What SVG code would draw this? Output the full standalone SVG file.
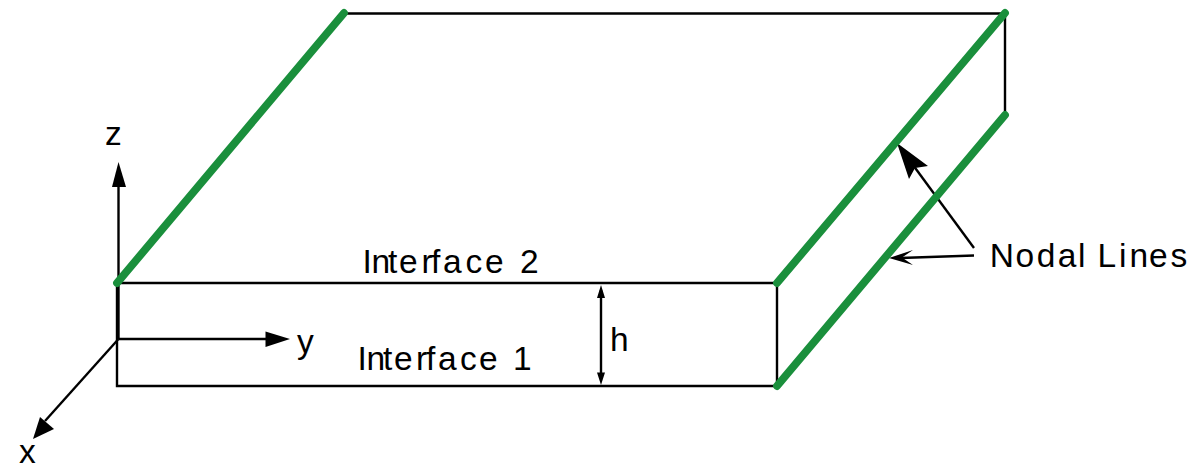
<svg xmlns="http://www.w3.org/2000/svg" width="1189" height="465" viewBox="0 0 1189 465">
<style>
.l{fill:none;stroke:#000;stroke-width:2.4}
.g{fill:none;stroke:#1a8f3c;stroke-width:7.800;stroke-linecap:round}
.t{font-family:"Liberation Sans",Arial,sans-serif;font-size:33.500px;fill:#000}
.a{fill:#000;stroke:none}
</style>
<rect width="1189" height="465" fill="#fff"/>
<g id="connectors">
<path class="l" d="M117 283H777V386H117Z"/>
<path class="l" d="M344 13.500H1005V115"/>
<path class="l" d="M118.500 339V180"/>
<path class="l" d="M118.500 339H270"/>
<path class="a" d="M290 339L265.500 331.500V347Z"/>
<path class="l" d="M118.500 339L45 421"/>
<path class="a" d="M33 439L40 417L54 429Z"/>
<path class="a" d="M118.500 162L112 187H126Z"/>
<path class="l" d="M601 290V379"/>
<path class="a" d="M601 285L597 298H605ZM601 385L597 372.500H605Z"/>
<path class="l" d="M974 248L913 165"/>
<path class="a" d="M897 143L928 166L915 168L909 179Z"/>
<path class="l" d="M974 255.500L900 258"/>
<path class="a" d="M889 258L913 250L902 257.500L913 265Z"/>
</g>
<g id="nodal-line-1"><path class="g" d="M117 283L344 13"/></g>
<g id="nodal-line-2"><path class="g" d="M777 283L1005 13"/></g>
<g id="nodal-line-3"><path class="g" d="M777 386L1005 115"/></g>
<g id="labels">
<text class="t" x="105" y="145">z</text>
<text class="t" x="297" y="353">y</text>
<text class="t" x="19" y="463">x</text>
<text class="t" x="610" y="351">h</text>
<text class="t" y="273" x="362.500 371.500 388 399 421.500 431 443 465.500 485 505 520">Interface 2</text>
<text class="t" y="369.500" x="357.500 366.500 383 394 416 426 438 460 479 500 513">Interface 1</text>
<text class="t" y="267" x="989.800 1015.500 1036.800 1057.800 1078 1088 1097.500 1119 1129.500 1149 1170.500">Nodal Lines</text>
</g>
</svg>
